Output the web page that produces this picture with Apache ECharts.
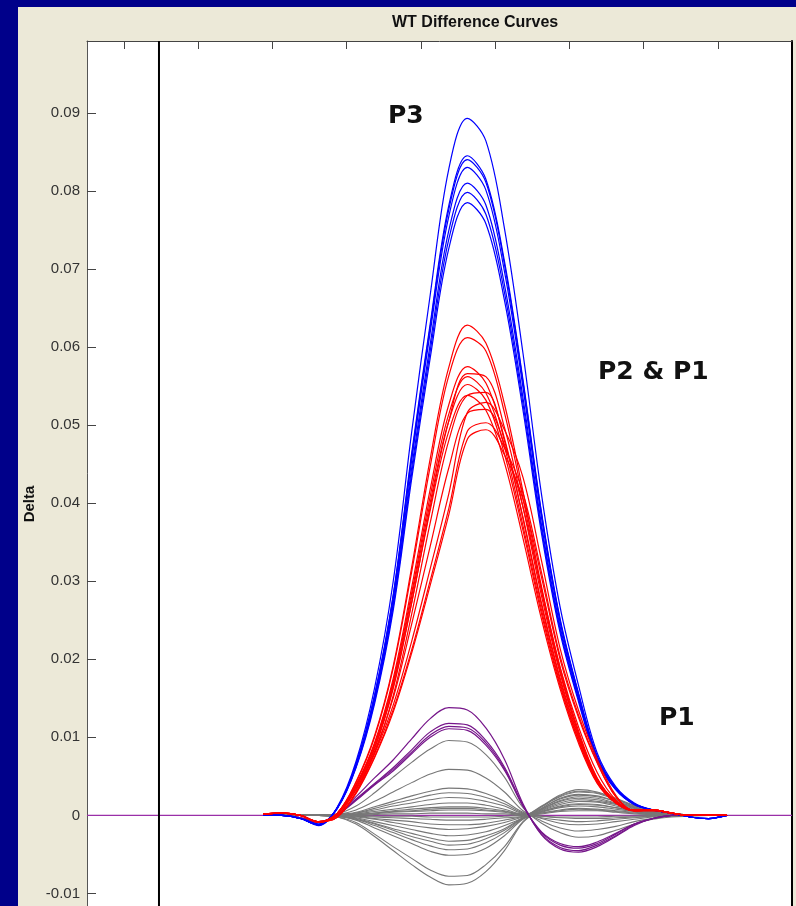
<!DOCTYPE html>
<html><head><meta charset="utf-8">
<script src="https://cdn.jsdelivr.net/npm/echarts@6/dist/echarts.min.js"></script>
<style>
html,body{margin:0;padding:0;background:#00008a;overflow:hidden;}
#panel{position:absolute;left:18px;top:7px;width:778px;height:899px;background:#ece9d8;}
#c{position:absolute;left:0;top:0;width:796px;height:906px;}
</style>
</head><body><div id="panel"></div><div id="c"></div>
<script>
const xs = [1.875,2.125,2.375,2.625,2.875,3.125,3.375,3.625,3.875,4.125,4.375,4.625,4.875,5.125,5.375,5.625,5.875,6.125,6.375,6.625,6.875,7.125,7.375,7.625,7.875,8.125];
const xTicks = [0,1,2,3,4,5,6,7,8];
const yTicks = [-0.01,0,0.01,0.02,0.03,0.04,0.05,0.06,0.07,0.08,0.09];
const yMin = -0.0125, yMax = 0.0992, xMin = -0.5, xMax = 9;
const cursorX = 0.47;

const blueCurves = [
[0,0,-0.0004,-0.0013,0.0011,0.0069,0.0163,0.0299,0.0491,0.0667,0.0828,0.0893,0.0864,0.0752,0.0592,0.0411,0.0267,0.0166,0.0080,0.0037,0.0016,0.0007,0.0003,-0.0002,-0.0004,0],
[0,0,-0.0004,-0.0012,0.0010,0.0066,0.0154,0.0282,0.0464,0.0630,0.0781,0.0845,0.0815,0.0710,0.0558,0.0388,0.0252,0.0156,0.0076,0.0035,0.0015,0.0007,0.0003,-0.0002,-0.0004,0],
[0,0,-0.0004,-0.0012,0.0010,0.0065,0.0153,0.0280,0.0460,0.0626,0.0776,0.0840,0.0811,0.0706,0.0555,0.0386,0.0250,0.0155,0.0075,0.0035,0.0015,0.0007,0.0003,-0.0002,-0.0004,0],
[0,0,-0.0004,-0.0012,0.0010,0.0064,0.0151,0.0277,0.0455,0.0619,0.0767,0.0830,0.0801,0.0697,0.0548,0.0381,0.0248,0.0153,0.0074,0.0035,0.0015,0.0007,0.0003,-0.0002,-0.0004,0],
[0,0,-0.0004,-0.0012,0.0010,0.0063,0.0148,0.0271,0.0445,0.0604,0.0749,0.0810,0.0782,0.0680,0.0535,0.0372,0.0242,0.0150,0.0072,0.0034,0.0014,0.0007,0.0003,-0.0002,-0.0004,0],
[0,0,-0.0004,-0.0011,0.0010,0.0062,0.0146,0.0267,0.0438,0.0595,0.0738,0.0798,0.0770,0.0670,0.0527,0.0367,0.0238,0.0148,0.0071,0.0033,0.0014,0.0007,0.0003,-0.0002,-0.0004,0],
[0,0,-0.0004,-0.0011,0.0009,0.0061,0.0143,0.0262,0.0431,0.0586,0.0726,0.0785,0.0758,0.0660,0.0519,0.0361,0.0234,0.0145,0.0070,0.0033,0.0014,0.0007,0.0003,-0.0002,-0.0004,0]
];

const redCurves = [
[0.0002,0.0003,0,-0.0009,0.0003,0.0043,0.0102,0.0191,0.0318,0.0457,0.0574,0.0628,0.0605,0.0527,0.0415,0.0293,0.0189,0.0108,0.0048,0.0018,0.0007,0.0007,0.0003,0,0,0],
[0.0002,0.0003,0,-0.0009,0.0003,0.0042,0.0100,0.0188,0.0312,0.0447,0.0563,0.0612,0.0595,0.0516,0.0406,0.0287,0.0185,0.0105,0.0047,0.0018,0.0007,0.0007,0.0003,0,0,0],
[0.0002,0.0003,0,-0.0008,0.0003,0.0039,0.0093,0.0175,0.0292,0.0418,0.0526,0.0575,0.0554,0.0483,0.0380,0.0269,0.0173,0.0099,0.0044,0.0017,0.0006,0.0007,0.0003,0,0,0],
[0.0002,0.0003,0,-0.0008,0.0002,0.0035,0.0085,0.0162,0.0272,0.0395,0.0505,0.0566,0.0562,0.0497,0.0395,0.0281,0.0182,0.0104,0.0047,0.0018,0.0007,0.0007,0.0003,0,0,0],
[0.0002,0.0003,0,-0.0008,0.0003,0.0039,0.0091,0.0171,0.0285,0.0409,0.0514,0.0562,0.0541,0.0472,0.0371,0.0263,0.0169,0.0096,0.0043,0.0016,0.0006,0.0007,0.0003,0,0,0],
[0.0002,0.0003,0,-0.0008,0.0003,0.0038,0.0090,0.0168,0.0280,0.0401,0.0505,0.0552,0.0532,0.0463,0.0365,0.0258,0.0166,0.0095,0.0042,0.0016,0.0006,0.0007,0.0003,0,0,0],
[0.0002,0.0003,0,-0.0008,0.0002,0.0033,0.0080,0.0153,0.0258,0.0375,0.0480,0.0538,0.0542,0.0480,0.0382,0.0272,0.0176,0.0101,0.0046,0.0018,0.0007,0.0007,0.0003,0,0,0],
[0.0002,0.0003,0,-0.0008,0.0003,0.0037,0.0087,0.0164,0.0273,0.0391,0.0492,0.0538,0.0519,0.0452,0.0355,0.0251,0.0162,0.0092,0.0041,0.0016,0.0006,0.0007,0.0003,0,0,0],
[0.0002,0.0003,0,-0.0008,-0.0002,0.0030,0.0079,0.0141,0.0223,0.0316,0.0412,0.0516,0.0529,0.0494,0.0433,0.0326,0.0214,0.0134,0.0072,0.0026,0.0006,0.0006,0.0003,0,0,0],
[0.0002,0.0003,0,-0.0008,0,0.0033,0.0082,0.0150,0.0245,0.0345,0.0445,0.0515,0.0520,0.0475,0.0395,0.0290,0.0190,0.0113,0.0055,0.0020,0.0006,0.0007,0.0003,0,0,0],
[0.0002,0.0003,0,-0.0008,-0.0002,0.0029,0.0075,0.0135,0.0212,0.0301,0.0393,0.0492,0.0503,0.0471,0.0413,0.0311,0.0204,0.0128,0.0068,0.0024,0.0006,0.0006,0.0003,0,0,0],
[0.0002,0.0003,0,-0.0008,-0.0002,0.0028,0.0074,0.0132,0.0208,0.0295,0.0385,0.0482,0.0494,0.0462,0.0405,0.0305,0.0200,0.0125,0.0067,0.0024,0.0006,0.0006,0.0003,0,0,0]
];

const purpleCurves = [
[0,0,-0.0003,-0.0009,0.0001,0.0024,0.0048,0.0071,0.0098,0.0124,0.0138,0.0135,0.0112,0.0072,0.0015,-0.0025,-0.0043,-0.0047,-0.0040,-0.0027,-0.0013,-0.0004,0,0.0001,0,0],
[0,0,-0.0003,-0.0009,0.0001,0.0021,0.0041,0.0061,0.0084,0.0107,0.0118,0.0116,0.0096,0.0062,0.0013,-0.0024,-0.0041,-0.0045,-0.0038,-0.0026,-0.0012,-0.0004,0,0.0001,0,0],
[0,0,-0.0003,-0.0008,0.0001,0.0020,0.0040,0.0059,0.0081,0.0103,0.0114,0.0112,0.0093,0.0060,0.0012,-0.0022,-0.0038,-0.0042,-0.0036,-0.0024,-0.0011,-0.0004,0,0.0001,0,0],
[0,0,-0.0003,-0.0008,0.0001,0.0019,0.0039,0.0057,0.0079,0.0100,0.0111,0.0109,0.0090,0.0058,0.0012,-0.0021,-0.0036,-0.0040,-0.0034,-0.0023,-0.0011,-0.0004,0,0.0001,0,0]
];

const grayCurves = [
[0,0,0,0,0.0002,0.0012,0.0029,0.0049,0.0068,0.0085,0.0096,0.0094,0.0078,0.0049,0.0010,-0.0010,-0.0022,-0.0028,-0.0026,-0.0019,-0.0011,-0.0005,-0.0002,-0.0001,0,0],
[0,0,0,0,0.0001,0.0007,0.0018,0.0030,0.0042,0.0053,0.0059,0.0058,0.0048,0.0030,0.0006,-0.0007,-0.0016,-0.0020,-0.0018,-0.0014,-0.0008,-0.0004,-0.0001,0,0,0],
[0,0,0,0,0.0001,0.0004,0.0011,0.0018,0.0025,0.0031,0.0035,0.0034,0.0028,0.0018,0.0004,-0.0004,-0.0010,-0.0012,-0.0011,-0.0008,-0.0005,-0.0002,-0.0001,0,0,0],
[0,0,0,0,0.0001,0.0003,0.0009,0.0015,0.0020,0.0026,0.0029,0.0028,0.0023,0.0015,0.0003,-0.0003,-0.0006,-0.0008,-0.0007,-0.0005,-0.0003,-0.0001,0,0,0,0],
[0,0,0,0,0,0.0003,0.0007,0.0012,0.0016,0.0020,0.0023,0.0022,0.0018,0.0012,0.0002,-0.0001,-0.0003,-0.0004,-0.0004,-0.0003,-0.0002,-0.0001,0,0,0,0],
[0,0,0,0,0,0.0002,0.0005,0.0008,0.0011,0.0014,0.0016,0.0016,0.0013,0.0008,0.0002,0.0003,0.0006,0.0008,0.0007,0.0005,0.0003,0.0001,0,0,0,0],
[0,0,0,0,0,0.0001,0.0003,0.0006,0.0008,0.0010,0.0011,0.0011,0.0009,0.0006,0.0001,0.0005,0.0012,0.0015,0.0014,0.0010,0.0006,0.0003,0.0001,0,0,0],
[0,0,0,0,0,0.0001,0.0002,0.0004,0.0005,0.0006,0.0007,0.0007,0.0006,0.0004,0.0001,0.0008,0.0018,0.0022,0.0020,0.0015,0.0009,0.0004,0.0001,0,0,0],
[0,0,0,0,0,0,0.0001,0.0002,0.0002,0.0003,0.0003,0.0003,0.0002,0.0002,0,0.0012,0.0026,0.0033,0.0030,0.0022,0.0013,0.0006,0.0002,0.0001,0,0],
[0,0,0,0,0,-0.0001,-0.0002,-0.0003,-0.0004,-0.0005,-0.0006,-0.0006,-0.0005,-0.0003,-0.0001,0.0009,0.0022,0.0027,0.0025,0.0018,0.0011,0.0005,0.0002,0.0001,0,0],
[0,0,0,0,0,-0.0001,-0.0004,-0.0006,-0.0008,-0.0011,-0.0012,-0.0012,-0.0010,-0.0006,-0.0001,0.0007,0.0016,0.0020,0.0018,0.0014,0.0008,0.0004,0.0001,0,0,0],
[0,0,0,0,0,-0.0002,-0.0005,-0.0009,-0.0013,-0.0016,-0.0018,-0.0017,-0.0014,-0.0009,-0.0002,0.0004,0.0010,0.0012,0.0011,0.0008,0.0005,0.0002,0.0001,0,0,0],
[0,0,0,0,-0.0001,-0.0003,-0.0008,-0.0013,-0.0018,-0.0023,-0.0026,-0.0025,-0.0021,-0.0013,-0.0003,0.0011,0.0024,0.0030,0.0028,0.0020,0.0012,0.0005,0.0002,0.0001,0,0],
[0,0,0,0,-0.0001,-0.0004,-0.0010,-0.0017,-0.0023,-0.0029,-0.0033,-0.0032,-0.0026,-0.0017,-0.0003,0.0006,0.0014,0.0018,0.0017,0.0012,0.0007,0.0003,0.0001,0,0,0],
[0,0,0,0,-0.0001,-0.0005,-0.0011,-0.0019,-0.0027,-0.0033,-0.0038,-0.0037,-0.0030,-0.0019,-0.0004,0.0003,0.0007,0.0009,0.0008,0.0006,0.0004,0.0002,0.0001,0,0,0],
[0,0,0,0,-0.0001,-0.0005,-0.0013,-0.0022,-0.0031,-0.0039,-0.0044,-0.0043,-0.0035,-0.0022,-0.0004,0.0008,0.0019,0.0024,0.0022,0.0016,0.0010,0.0004,0.0001,0,0,0],
[0,0,0,0,-0.0001,-0.0006,-0.0016,-0.0026,-0.0036,-0.0046,-0.0051,-0.0050,-0.0042,-0.0026,-0.0005,0.0005,0.0011,0.0014,0.0013,0.0010,0.0006,0.0003,0.0001,0,0,0],
[0,0,0,0,-0.0002,-0.0009,-0.0024,-0.0040,-0.0055,-0.0070,-0.0078,-0.0077,-0.0063,-0.0040,-0.0008,0.0011,0.0025,0.0031,0.0029,0.0021,0.0012,0.0006,0.0002,0.0001,0,0],
[0,0,0,0,-0.0002,-0.0011,-0.0027,-0.0045,-0.0063,-0.0079,-0.0089,-0.0087,-0.0072,-0.0045,-0.0009,0.0009,0.0021,0.0026,0.0024,0.0018,0.0010,0.0005,0.0002,0.0001,0,0],
[0,0,0,0,0,0.0001,0.0003,0.0005,0.0006,0.0008,0.0009,0.0009,0.0007,0.0005,0.0001,-0.0001,-0.0002,-0.0002,-0.0002,-0.0001,-0.0001,0,0,0,0,0],
[0,0,0,0,0,0,-0.0001,-0.0001,-0.0001,-0.0002,-0.0002,-0.0002,-0.0002,-0.0001,0,0.0002,0.0005,0.0006,0.0006,0.0004,0.0002,0.0001,0,0,0,0]
];

const baseline = [[xMin,0],[xMax,0]];

const chart = echarts.init(document.getElementById('c'), null, {renderer:'canvas'});
const series = [];
series.push({type:'line', data: baseline, showSymbol:false, lineStyle:{color:'#9a2fa8', width:1.3}, silent:true, z:2});
function add(arr, color, w){
  series.push({type:'line', data: xs.map((x,i)=>[x, arr[i]]), showSymbol:false, smooth:0.35,
    lineStyle:{color:color, width:w}, silent:true, z:3});
}
grayCurves.forEach(c=>add(c,'#777777',1.1));
purpleCurves.forEach(c=>add(c,'#76168a',1.2));
blueCurves.forEach(c=>add(c,'#0000ff',1.2));
redCurves.forEach(c=>add(c,'#ff0000',1.2));
series.push({type:'line', data:[[cursorX,yMin],[cursorX,yMax]], showSymbol:false, lineStyle:{color:'#000', width:2}, silent:true, z:4});

const labelFont = {fontFamily:'Liberation Sans, Arial, sans-serif', fontSize:15, color:'#333'};
chart.setOption({
  animation:false,
  backgroundColor:'transparent',
  title:{text:'WT Difference Curves', left:392, top:15, padding:0,
    textStyle:{fontFamily:'Liberation Sans, Arial, sans-serif', fontSize:16, fontWeight:'bold', color:'#111'}},
  grid:{left:87, top:41, width:705, height:872, show:true, backgroundColor:'#fff', borderWidth:0, outerBoundsMode:'none', containLabel:false},
  xAxis:{type:'value', min:xMin, max:xMax, position:'top',
    axisLine:{show:true, onZero:false, lineStyle:{color:'#444', width:1}},
    axisTick:{show:true, inside:true, length:8, customValues:xTicks, lineStyle:{color:'#444'}},
    axisLabel:{show:false}, splitLine:{show:false}},
  yAxis:[{type:'value', min:yMin, max:yMax, position:'left',
    axisLine:{show:true, onZero:false, lineStyle:{color:'#555', width:1}},
    axisTick:{show:true, inside:true, length:9, customValues:yTicks, lineStyle:{color:'#444'}},
    axisLabel:Object.assign({show:true, margin:7, customValues:yTicks,
      formatter:v=> (Math.abs(v)<1e-9 ? '0' : v.toFixed(2))}, labelFont),
    splitLine:{show:false}},
   {type:'value', min:yMin, max:yMax, position:'right',
    axisLine:{show:true, onZero:false, lineStyle:{color:'#000', width:2}},
    axisTick:{show:false}, axisLabel:{show:false}, splitLine:{show:false}}],
  graphic:[
    {type:'text', x:30, y:504, rotation:Math.PI/2, z:100,
      style:{text:'Delta', fontFamily:'Liberation Sans, Arial, sans-serif', fontSize:15, fontWeight:'bold', fill:'#111', align:'center', verticalAlign:'middle'}},
    {type:'text', x:388, y:116, z:100,
      style:{text:'P3', fontFamily:'DejaVu Sans, sans-serif', fontSize:25, fontWeight:'bold', fill:'#111', align:'left', verticalAlign:'middle'}},
    {type:'text', x:598, y:372, z:100,
      style:{text:'P2 & P1', fontFamily:'DejaVu Sans, sans-serif', fontSize:25, fontWeight:'bold', fill:'#111', align:'left', verticalAlign:'middle'}},
    {type:'text', x:659, y:718, z:100,
      style:{text:'P1', fontFamily:'DejaVu Sans, sans-serif', fontSize:25, fontWeight:'bold', fill:'#111', align:'left', verticalAlign:'middle'}}
  ],
  series:series
});
</script>
</body></html>
